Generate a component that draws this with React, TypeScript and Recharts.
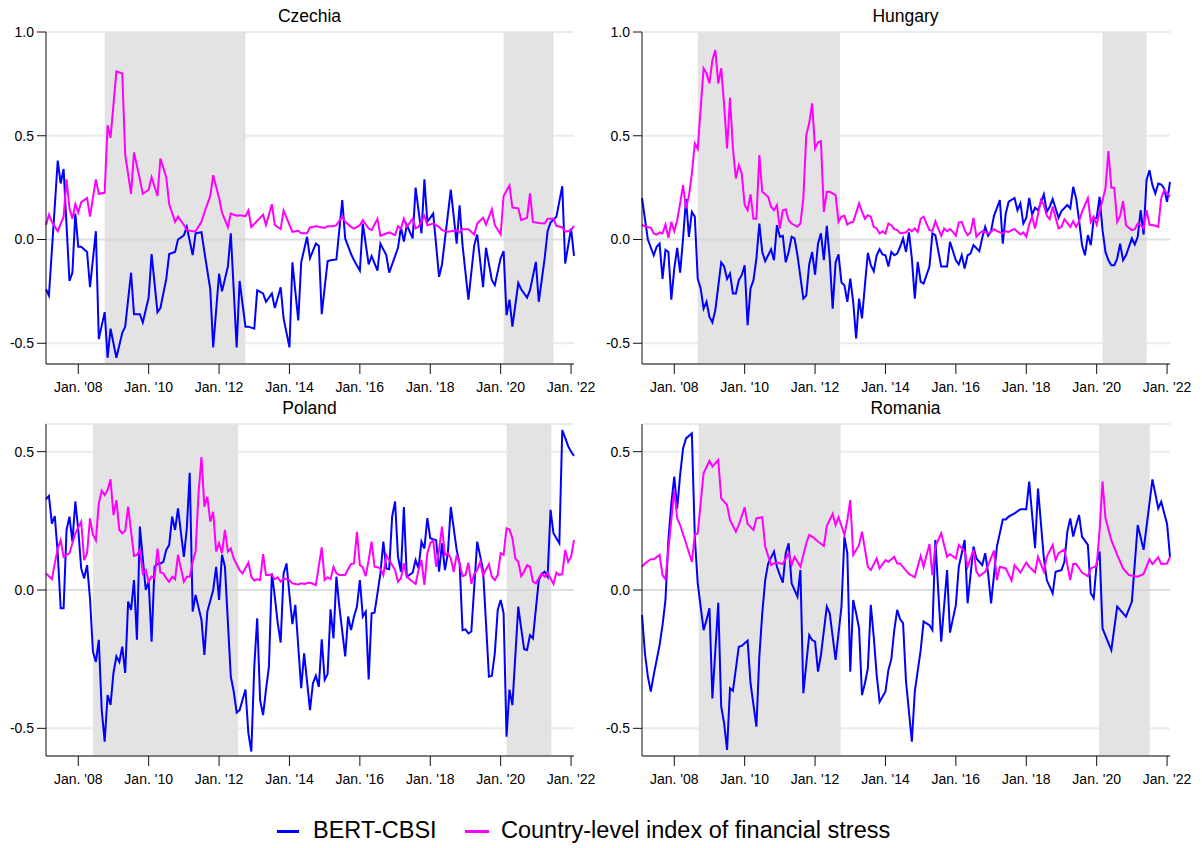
import React from "react";
import { LineChart, Line, XAxis, YAxis, CartesianGrid, ReferenceArea, ReferenceLine } from "recharts";

// x = months since Feb. 2007 (0) ... Feb. 2022 (180)
const xTicks = [11, 35, 59, 83, 107, 131, 155, 179];
const xTickLabels = ["Jan. '08", "Jan. '10", "Jan. '12", "Jan. '14", "Jan. '16", "Jan. '18", "Jan. '20", "Jan. '22"];

type Pt = [number, number];

const czBert: Pt[] = [[0,-0.24],[1,-0.27],[4,0.38],[5,0.27],[6,0.34],[8,-0.2],[9,-0.16],[10,0.125],[11,-0.035],[12,-0.035],[14,-0.06],[15,-0.23],[17,0.04],[18,-0.48],[20,-0.35],[21,-0.57],[22,-0.43],[24,-0.57],[26,-0.45],[27,-0.42],[29,-0.16],[30,-0.36],[32,-0.36],[33,-0.4],[35,-0.28],[36,-0.07],[38,-0.35],[39,-0.33],[41,-0.19],[42,-0.07],[44,-0.06],[45,0],[47,0.02],[48,0.06],[50,-0.075],[51,0.03],[53,0.035],[54,-0.06],[56,-0.24],[57,-0.52],[59,-0.165],[60,-0.25],[62,-0.13],[63,0.03],[65,-0.52],[66,-0.2],[68,-0.42],[69,-0.42],[71,-0.43],[72,-0.245],[74,-0.26],[75,-0.3],[77,-0.26],[78,-0.33],[80,-0.23],[81,-0.38],[83,-0.52],[84,-0.11],[86,-0.39],[87,-0.11],[89,0.013],[90,-0.09],[92,-0.02],[93,-0.03],[94,-0.36],[96,-0.105],[97,-0.1],[99,-0.096],[101,0.19],[102,0.005],[104,-0.07],[105,-0.1],[107,-0.15],[108,0.077],[110,-0.12],[111,-0.08],[113,-0.15],[114,-0.02],[116,-0.075],[117,-0.16],[120,-0.04],[121,0.06],[122,-0.01],[123,0.07],[125,0.005],[126,0.25],[128,0.03],[129,0.29],[130,0.085],[132,0.125],[134,-0.18],[135,-0.12],[138,0.24],[140,-0.02],[141,0.165],[142,-0.027],[144,-0.29],[146,-0.027],[147,0.024],[149,-0.23],[150,-0.04],[152,-0.196],[153,-0.22],[155,-0.09],[156,-0.056],[157,-0.365],[158,-0.29],[159,-0.42],[161,-0.21],[162,-0.24],[164,-0.28],[165,-0.244],[167,-0.108],[168,-0.3],[170,-0.09],[171,0.04],[172,0.082],[174,0.11],[176,0.257],[177,-0.116],[179,0.053],[180,-0.079]];
const czStress: Pt[] = [[0,0.07],[1,0.12],[2,0.085],[4,0.04],[6,0.11],[7,0.29],[8,0.15],[9,0.1],[10,0.17],[11,0.13],[12,0.18],[14,0.2],[15,0.11],[17,0.29],[18,0.22],[20,0.225],[21,0.55],[22,0.49],[24,0.81],[26,0.8],[27,0.41],[29,0.22],[30,0.42],[32,0.29],[33,0.22],[35,0.24],[36,0.3],[38,0.21],[39,0.39],[41,0.3],[42,0.17],[44,0.085],[45,0.11],[47,0.07],[48,0.045],[50,0.04],[51,0.04],[53,0.085],[54,0.13],[56,0.21],[57,0.31],[59,0.2],[60,0.13],[62,0.06],[63,0.125],[65,0.115],[66,0.117],[68,0.112],[69,0.14],[70,0.06],[72,0.09],[74,0.12],[75,0.07],[77,0.17],[78,0.07],[80,0.05],[81,0.14],[83,0.07],[84,0.037],[86,0.042],[87,0.03],[89,0.03],[90,0.058],[92,0.064],[93,0.061],[95,0.056],[96,0.064],[98,0.064],[99,0.069],[101,0.11],[102,0.085],[104,0.061],[105,0.053],[107,0.069],[108,0.093],[110,0.053],[111,0.045],[113,0.1],[114,0.018],[116,0.029],[117,0.034],[119,0.021],[120,0.064],[121,0.053],[122,0.1],[123,0.061],[125,0.1],[126,0.053],[127,0.061],[129,0.114],[130,0.069],[132,0.077],[134,0.061],[135,0.045],[137,0.037],[138,0.04],[140,0.045],[141,0.034],[142,0.05],[144,0.05],[146,0.024],[147,0.077],[149,0.105],[150,0.072],[152,0.146],[153,0.069],[155,0.024],[156,0.21],[158,0.26],[159,0.154],[161,0.15],[162,0.093],[164,0.105],[165,0.222],[166,0.085],[168,0.08],[170,0.077],[171,0.1],[173,0.1],[174,0.066],[176,0.058],[177,0.037],[179,0.045],[180,0.066]];

const huBert: Pt[] = [[0,0.2],[2,0],[4,-0.076],[5,-0.035],[6,-0.02],[7,-0.19],[8,-0.05],[9,-0.06],[10,-0.29],[11,-0.14],[12,-0.04],[13,-0.16],[14,0.005],[15,0.195],[16,0.013],[17,0.133],[18,0.11],[19,-0.19],[20,-0.236],[21,-0.333],[22,-0.3],[23,-0.373],[24,-0.4],[25,-0.34],[27,-0.11],[28,-0.13],[29,-0.19],[30,-0.164],[31,-0.26],[32,-0.26],[33,-0.196],[34,-0.172],[35,-0.124],[36,-0.413],[37,-0.236],[38,-0.196],[39,-0.092],[40,0.077],[41,-0.06],[42,-0.104],[43,-0.076],[44,-0.047],[45,-0.1],[46,0.069],[47,0.013],[48,0.018],[49,-0.11],[50,-0.06],[51,0.013],[52,0.005],[53,-0.076],[55,-0.285],[56,-0.27],[57,-0.12],[58,-0.06],[59,-0.17],[60,-0.02],[61,0.03],[62,-0.1],[63,0.066],[64,-0.092],[65,-0.333],[66,-0.11],[67,-0.072],[68,-0.207],[69,-0.22],[70,-0.3],[71,-0.188],[72,-0.3],[73,-0.477],[74,-0.285],[75,-0.38],[76,-0.22],[77,-0.064],[78,-0.124],[79,-0.153],[80,-0.076],[81,-0.047],[82,-0.072],[83,-0.076],[84,-0.13],[85,-0.06],[86,-0.076],[87,-0.068],[88,-0.035],[89,0.005],[90,-0.06],[91,0.034],[92,-0.092],[93,-0.285],[94,-0.108],[95,-0.204],[96,-0.212],[98,-0.13],[99,0.029],[100,0.021],[102,-0.13],[104,-0.13],[105,-0.011],[107,-0.1],[108,-0.12],[109,-0.076],[110,-0.14],[111,-0.076],[112,-0.068],[113,-0.027],[115,-0.056],[116,0.008],[117,0.061],[118,0.018],[119,0.04],[120,0.114],[122,0.19],[123,-0.02],[124,0.125],[125,0.182],[127,0.2],[128,0.141],[129,0.174],[130,0.077],[131,0.104],[132,0.2],[133,0.12],[134,0.153],[135,0.141],[137,0.217],[138,0.133],[139,0.158],[140,0.195],[142,0.104],[143,0.137],[145,0.166],[146,0.15],[147,0.254],[148,0.198],[149,0.093],[150,-0.027],[151,-0.076],[152,0.021],[153,-0.027],[154,0.1],[155,0.104],[156,0.206],[157,0.045],[158,-0.06],[159,-0.1],[160,-0.124],[161,-0.124],[162,-0.092],[163,-0.02],[164,-0.1],[165,-0.076],[167,0.005],[168,-0.024],[169,0.013],[170,0.141],[171,0.024],[172,0.286],[173,0.334],[174,0.262],[175,0.222],[176,0.27],[177,0.265],[178,0.246],[179,0.182],[180,0.278]];
const huStress: Pt[] = [[0,0.07],[1,0.064],[3,0.056],[4,0.029],[5,0.024],[6,0.034],[7,0.029],[8,0.072],[9,0.008],[10,0.085],[11,0.04],[12,0.093],[13,0.174],[14,0.262],[15,0.15],[16,0.21],[17,0.318],[18,0.463],[19,0.436],[21,0.825],[22,0.8],[23,0.752],[24,0.865],[25,0.913],[26,0.752],[27,0.825],[28,0.648],[29,0.439],[30,0.683],[31,0.439],[32,0.294],[33,0.358],[34,0.318],[35,0.166],[36,0.141],[37,0.217],[38,0.1],[39,0.1],[40,0.407],[41,0.23],[43,0.206],[44,0.158],[45,0.141],[46,0.166],[47,0.053],[48,0.141],[49,0.145],[50,0.093],[51,0.077],[53,0.061],[54,0.077],[55,0.198],[56,0.503],[57,0.56],[58,0.656],[59,0.439],[60,0.468],[61,0.474],[62,0.133],[63,0.23],[64,0.23],[66,0.214],[67,0.085],[68,0.11],[69,0.114],[70,0.072],[71,0.082],[72,0.085],[74,0.174],[75,0.133],[76,0.1],[77,0.117],[78,0.11],[79,0.061],[80,0.053],[81,0.029],[82,0.04],[83,0.029],[84,0.077],[85,0.069],[86,0.05],[87,0.045],[88,0.03],[90,0.034],[91,0.05],[92,0.04],[93,0.053],[94,0.037],[95,0.1],[96,0.11],[97,0.077],[98,0.045],[99,0.042],[100,0.088],[102,0.018],[103,0.053],[104,0.04],[105,0.05],[106,0.037],[107,0.018],[108,0.082],[109,0.085],[110,0.045],[111,0.021],[112,0.034],[113,0.104],[114,0.013],[115,0.029],[116,0.04],[118,0.029],[119,0.037],[120,0.05],[121,0.04],[123,0.029],[124,0.04],[125,0.037],[126,0.045],[127,0.05],[129,0.024],[130,0.034],[131,0.013],[132,0.072],[133,0.11],[134,0.053],[136,0.19],[137,0.166],[138,0.114],[139,0.098],[140,0.158],[142,0.053],[143,0.061],[144,0.098],[146,0.061],[147,0.088],[148,0.061],[149,0.088],[150,0.133],[152,0.2],[153,0.085],[154,0.11],[155,0.072],[156,0.133],[158,0.246],[159,0.426],[160,0.25],[161,0.25],[162,0.085],[163,0.114],[164,0.185],[165,0.069],[166,0.056],[167,0.045],[168,0.05],[169,0.077],[170,0.072],[171,0.053],[172,0.141],[173,0.072],[175,0.066],[176,0.061],[177,0.198],[178,0.238],[179,0.222],[180,0.206]];

const plBert: Pt[] = [[0,0.328],[1,0.34],[2,0.24],[3,0.267],[4,0.133],[5,-0.066],[6,-0.066],[7,0.217],[8,0.265],[9,0.175],[10,0.32],[11,0.217],[12,0.078],[13,0.042],[14,0.09],[15,-0.03],[16,-0.223],[17,-0.26],[18,-0.18],[19,-0.434],[20,-0.548],[21,-0.38],[22,-0.415],[23,-0.3],[24,-0.24],[25,-0.26],[26,-0.205],[27,-0.3],[28,-0.042],[29,-0.072],[30,0.036],[31,-0.18],[32,0.229],[34,0],[35,0.03],[36,-0.187],[37,0.084],[38,0.094],[39,0.096],[40,0.102],[41,0.145],[42,0.163],[43,0.265],[44,0.217],[45,0.295],[47,0.12],[48,0.223],[49,0.424],[50,-0.078],[51,-0.018],[53,-0.108],[54,-0.235],[55,-0.078],[57,0],[58,0.084],[59,-0.036],[60,0.127],[61,0.084],[63,-0.313],[64,-0.367],[65,-0.443],[66,-0.434],[68,-0.36],[69,-0.518],[70,-0.584],[71,-0.277],[72,-0.102],[73,-0.398],[74,-0.452],[75,-0.36],[76,-0.277],[77,0.06],[78,-0.024],[79,-0.12],[80,-0.19],[81,0.06],[82,0.096],[83,-0.018],[84,-0.123],[85,-0.054],[87,-0.355],[88,-0.229],[90,-0.434],[91,-0.337],[92,-0.31],[93,-0.35],[94,-0.178],[95,-0.325],[96,-0.304],[97,-0.07],[98,-0.175],[99,0.048],[100,-0.06],[102,-0.24],[103,-0.096],[104,-0.145],[105,-0.096],[106,-0.06],[107,0.036],[108,-0.096],[109,-0.078],[110,-0.323],[111,-0.084],[112,-0.082],[113,-0.012],[114,0.06],[115,0.175],[116,0.078],[117,0.075],[118,0.265],[119,0.32],[120,0.12],[121,0.066],[122,0.3],[123,0.048],[125,0.063],[126,0.108],[127,0.078],[128,0.175],[129,0.15],[130,0.26],[131,0.187],[133,0.18],[134,0.066],[135,0.169],[136,0.072],[137,0.133],[138,0.3],[140,0.145],[141,0.096],[142,-0.145],[143,-0.142],[144,-0.157],[145,-0.15],[147,0.175],[149,0.072],[150,-0.12],[151,-0.313],[152,-0.31],[153,-0.229],[154,-0.072],[155,-0.036],[156,-0.084],[157,-0.53],[158,-0.36],[159,-0.416],[161,-0.06],[162,-0.139],[163,-0.214],[164,-0.217],[165,-0.163],[166,-0.175],[168,0.036],[169,0.058],[170,0.066],[171,0.048],[172,0.29],[173,0.205],[174,0.187],[175,0.169],[176,0.578],[177,0.55],[178,0.52],[179,0.5],[180,0.485]];
const plStress: Pt[] = [[0,0.06],[1,0.05],[2,0.039],[3,0.096],[4,0.15],[5,0.18],[6,0.12],[7,0.127],[8,0.133],[10,0.205],[12,0.247],[13,0.108],[14,0.133],[15,0.259],[16,0.2],[17,0.18],[18,0.313],[19,0.359],[20,0.343],[21,0.361],[22,0.4],[23,0.271],[24,0.325],[25,0.217],[26,0.205],[27,0.214],[28,0.301],[30,0.123],[31,0.127],[32,0.145],[33,0.06],[34,0.072],[35,0.03],[36,0.048],[37,0.042],[38,0.15],[39,0.063],[40,0.06],[41,0.042],[42,0.03],[43,0.048],[44,0.039],[45,0.127],[47,0.03],[48,0.048],[49,0.048],[50,0.102],[51,0.139],[52,0.349],[53,0.48],[54,0.301],[55,0.337],[56,0.247],[57,0.283],[58,0.139],[59,0.169],[60,0.133],[61,0.217],[62,0.139],[63,0.15],[64,0.114],[66,0.072],[67,0.06],[69,0.099],[70,0.048],[71,0.034],[72,0.039],[73,0.036],[74,0.13],[75,0.054],[77,0.054],[78,0.039],[79,0.046],[80,0.03],[81,0.042],[82,0.039],[83,0.036],[84,0.024],[86,0.02],[87,0.024],[88,0.022],[90,0.027],[92,0.018],[94,0.154],[95,0.036],[96,0.046],[97,0.039],[98,0.084],[99,0.06],[100,0.054],[102,0.054],[103,0.075],[104,0.094],[105,0.096],[106,0.21],[107,0.09],[108,0.082],[109,0.05],[110,0.108],[111,0.175],[112,0.084],[113,0.082],[114,0.078],[115,0.054],[116,0.127],[117,0.108],[119,0.072],[120,0.03],[121,0.042],[122,0.096],[123,0.048],[125,0.03],[126,0.022],[127,0.072],[128,0.108],[129,0.018],[130,0.133],[131,0.169],[132,0.18],[133,0.084],[134,0.145],[135,0.229],[136,0.127],[137,0.133],[138,0.114],[139,0.066],[140,0.127],[141,0.096],[142,0.05],[143,0.054],[144,0.099],[145,0.022],[146,0.058],[147,0.072],[148,0.102],[149,0.054],[151,0.094],[152,0.048],[153,0.036],[154,0.054],[155,0.133],[156,0.127],[157,0.223],[158,0.219],[159,0.187],[160,0.114],[161,0.102],[162,0.05],[163,0.066],[164,0.09],[165,0.084],[166,0.03],[167,0.024],[168,0.042],[169,0.06],[170,0.048],[171,0.063],[172,0.042],[173,0.022],[174,0.063],[175,0.054],[176,0.058],[177,0.145],[178,0.102],[179,0.12],[180,0.18]];

const roBert: Pt[] = [[0,-0.09],[1,-0.229],[2,-0.313],[3,-0.367],[4,-0.307],[5,-0.253],[6,-0.199],[7,-0.127],[8,-0.036],[9,0.181],[10,0.313],[11,0.41],[12,0.295],[13,0.416],[14,0.512],[15,0.548],[17,0.566],[18,0.193],[19,0.024],[21,-0.145],[22,-0.108],[23,-0.066],[24,-0.392],[26,-0.046],[27,-0.422],[28,-0.482],[29,-0.578],[30,-0.355],[31,-0.364],[33,-0.205],[34,-0.202],[36,-0.183],[37,-0.337],[39,-0.494],[40,-0.241],[41,-0.084],[42,0.036],[43,0.096],[45,0.139],[46,0.084],[47,0.054],[48,0.027],[49,0.133],[50,0.169],[51,0.024],[52,0],[53,-0.024],[54,0.072],[55,-0.373],[57,-0.163],[58,-0.181],[59,-0.187],[60,-0.295],[61,-0.235],[63,-0.06],[64,-0.084],[66,-0.253],[67,-0.157],[68,-0.06],[69,0.193],[70,0.133],[71,-0.295],[72,-0.036],[73,-0.084],[74,-0.139],[75,-0.38],[76,-0.337],[77,-0.283],[78,-0.054],[79,-0.169],[80,-0.307],[81,-0.404],[82,-0.386],[83,-0.367],[84,-0.289],[85,-0.25],[86,-0.145],[87,-0.072],[88,-0.106],[89,-0.12],[90,-0.33],[92,-0.548],[93,-0.367],[95,-0.217],[96,-0.114],[98,-0.127],[99,-0.145],[100,0.181],[102,-0.187],[104,0.072],[105,-0.154],[107,-0.054],[108,0.084],[110,0.181],[111,-0.048],[113,0.157],[114,0.114],[116,0.09],[117,0.133],[118,0.06],[119,-0.048],[121,0.157],[123,0.255],[124,0.255],[125,0.265],[127,0.277],[129,0.292],[131,0.292],[132,0.392],[134,0.151],[135,0.367],[137,0.114],[138,0.036],[140,-0.012],[141,0.066],[143,0.072],[144,0.102],[145,0.211],[146,0.259],[147,0.193],[148,0.235],[149,0.271],[150,0.193],[152,0.163],[153,-0.012],[154,-0.03],[155,0.096],[156,0.139],[157,-0.139],[160,-0.217],[162,-0.06],[165,-0.096],[167,-0.042],[169,0.235],[171,0.145],[173,0.313],[174,0.4],[176,0.295],[177,0.319],[179,0.239],[180,0.12]];
const roStress: Pt[] = [[0,0.084],[1,0.096],[3,0.111],[4,0.111],[6,0.127],[7,0.054],[8,0.039],[11,0.361],[12,0.259],[13,0.235],[15,0.169],[17,0.102],[18,0.199],[19,0.205],[21,0.422],[23,0.467],[24,0.446],[26,0.47],[27,0.331],[29,0.307],[30,0.253],[32,0.211],[33,0.235],[35,0.299],[36,0.239],[38,0.217],[39,0.259],[41,0.263],[42,0.157],[44,0.09],[45,0.096],[46,0.099],[48,0.094],[50,0.133],[51,0.09],[52,0.12],[54,0.084],[56,0.169],[57,0.199],[58,0.193],[60,0.175],[62,0.159],[63,0.231],[65,0.275],[66,0.235],[67,0.263],[69,0.199],[70,0.253],[71,0.325],[72,0.127],[74,0.163],[75,0.211],[77,0.084],[78,0.072],[80,0.114],[81,0.078],[83,0.108],[84,0.102],[86,0.12],[87,0.096],[88,0.096],[90,0.07],[91,0.058],[93,0.046],[95,0.123],[96,0.084],[98,0.166],[99,0.054],[100,0.157],[102,0.205],[104,0.12],[105,0.13],[107,0.114],[108,0.163],[110,0.139],[111,0.084],[113,0.145],[114,0.066],[115,0.05],[117,0.066],[118,0.09],[120,0.142],[121,0.036],[122,0.084],[124,0.078],[126,0.034],[127,0.09],[129,0.063],[131,0.099],[132,0.084],[134,0.063],[135,0.12],[137,0.066],[138,0.12],[140,0.163],[141,0.108],[142,0.133],[144,0.147],[146,0.036],[147,0.094],[148,0.094],[150,0.063],[152,0.05],[153,0.078],[155,0.087],[156,0.217],[157,0.392],[158,0.26],[160,0.18],[162,0.127],[164,0.078],[166,0.054],[169,0.048],[171,0.058],[173,0.111],[174,0.094],[176,0.118],[177,0.094],[179,0.096],[180,0.12]];

// shaded periods (month index start/end)
const czShade: Pt[] = [[20, 68], [156, 173]];
const huShade: Pt[] = [[19, 67.5], [157, 172]];
const plShade: Pt[] = [[16, 65.5], [157, 172.3]];
const roShade: Pt[] = [[19.3, 67.7], [155.8, 173.1]];

const BLUE = "#0000ff";
const PINK = "#ff00ff";
const FONT = "'Liberation Sans', Arial, Helvetica, sans-serif";
const W = 604;
const H = 400;

const pts = (a: Pt[]) => a.map(([m, v]) => ({ m, v }));

function Panel({ title, left, top, bert, stress, shades, yDomain, yTicks }: {
  title: string; left: number; top: number; bert: Pt[]; stress: Pt[]; shades: Pt[];
  yDomain: [number, number]; yTicks: number[];
}) {
  return (
    <div style={{ position: "absolute", left, top, width: W, height: H }}>
      <div style={{ position: "absolute", left: 46, width: 527, top: 6, textAlign: "center",
        fontSize: 17.5, fontFamily: FONT, color: "#000" }}>{title}</div>
      <LineChart width={W} height={H} margin={{ top: 32, right: 30, bottom: 6, left: 6 }}>
        <CartesianGrid vertical={false} stroke="#e6edf0" strokeWidth={2} />
        {shades.map(([a, b], i) => (
          <ReferenceArea key={i} x1={a} x2={b} fill="#e3e3e3" fillOpacity={1} stroke="none" />
        ))}
        <ReferenceLine y={0} stroke="#000" strokeOpacity={0.05} strokeWidth={2} />
        <XAxis type="number" dataKey="m" domain={[0, 180]} ticks={xTicks} height={30} tickSize={10}
          tickMargin={8} stroke="#111" interval={0}
          tick={{ fill: "#000", fontSize: 14, fontFamily: FONT }}
          tickFormatter={(v: number) => xTickLabels[xTicks.indexOf(v)]} />
        <YAxis type="number" domain={yDomain} ticks={yTicks} width={40} tickSize={9} tickMargin={3}
          stroke="#111" tick={{ fill: "#000", fontSize: 14, fontFamily: FONT }} interval={0}
          tickFormatter={(v: number) => v.toFixed(1)} />
        <Line data={pts(bert)} dataKey="v" type="linear" stroke={BLUE} strokeWidth={2} dot={false}
          isAnimationActive={false} name="BERT-CBSI" />
        <Line data={pts(stress)} dataKey="v" type="linear" stroke={PINK} strokeWidth={2} dot={false}
          isAnimationActive={false} name="Country-level index of financial stress" />
      </LineChart>
    </div>
  );
}

export default function App() {
  const topTicks = [-0.5, 0, 0.5, 1];
  const botTicks = [-0.5, 0, 0.5];
  return (
    <div style={{ position: "absolute", left: 0, top: 0, width: 1202, height: 848, overflow: "hidden",
      background: "#fff", fontFamily: FONT }}>
      <Panel title="Czechia" left={0} top={0} bert={czBert} stress={czStress} shades={czShade}
        yDomain={[-0.6, 1]} yTicks={topTicks} />
      <Panel title="Hungary" left={596} top={0} bert={huBert} stress={huStress} shades={huShade}
        yDomain={[-0.6, 1]} yTicks={topTicks} />
      <Panel title="Poland" left={0} top={392} bert={plBert} stress={plStress} shades={plShade}
        yDomain={[-0.6, 0.6]} yTicks={botTicks} />
      <Panel title="Romania" left={596} top={392} bert={roBert} stress={roStress} shades={roShade}
        yDomain={[-0.6, 0.6]} yTicks={botTicks} />
      <div style={{ position: "absolute", left: 277, top: 830, width: 22, height: 3, background: BLUE }} />
      <div style={{ position: "absolute", left: 313, top: 817, fontSize: 23.5, color: "#000", whiteSpace: "nowrap" }}>BERT-CBSI</div>
      <div style={{ position: "absolute", left: 465, top: 830, width: 24, height: 3, background: PINK }} />
      <div style={{ position: "absolute", left: 501, top: 817, fontSize: 23.5, color: "#000", whiteSpace: "nowrap" }}>Country-level index of financial stress</div>
    </div>
  );
}
